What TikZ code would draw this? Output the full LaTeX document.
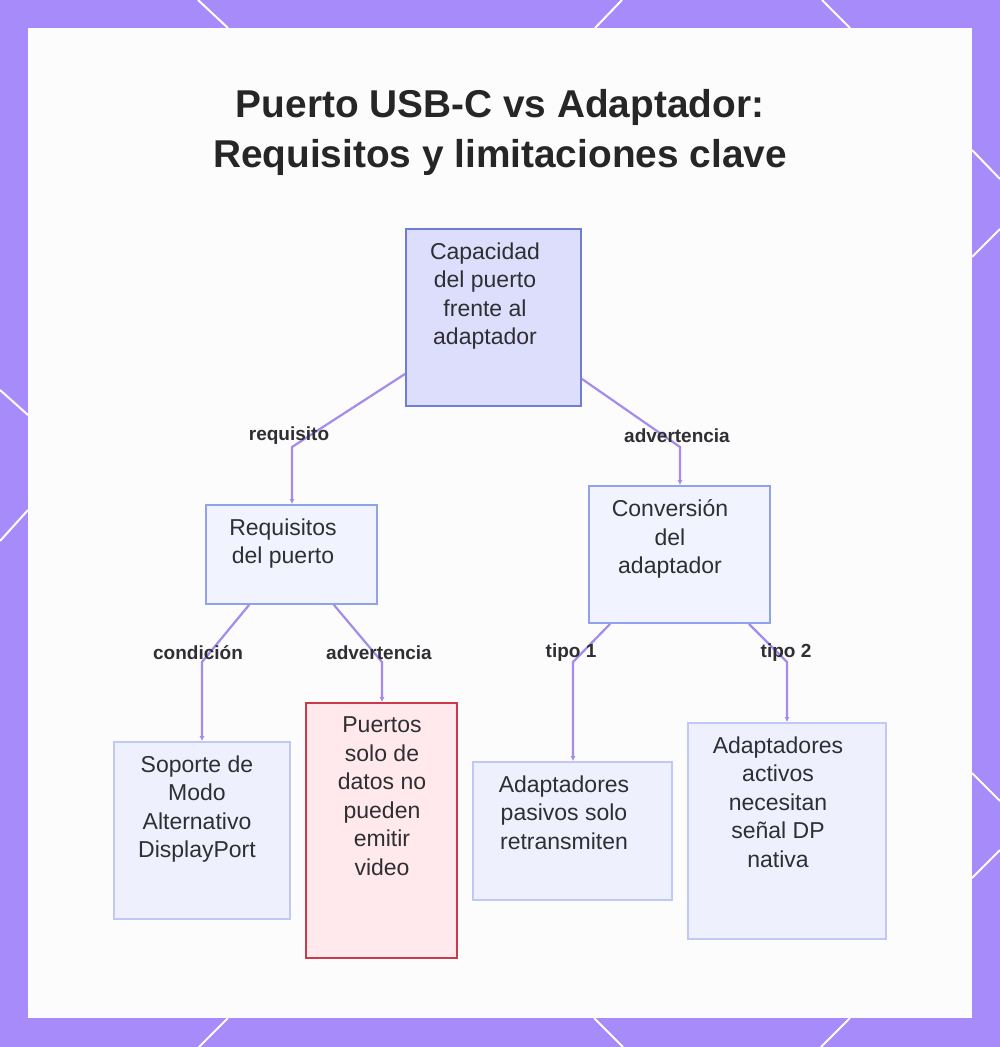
\documentclass[tikz,border=0pt]{standalone}
\usepackage{fontspec}
\setmainfont{Liberation Sans}
\usepackage{xcolor}
\usetikzlibrary{arrows.meta}

\definecolor{frame}{HTML}{A78BFA}
\definecolor{edgec}{HTML}{A48BEC}
\definecolor{txtc}{HTML}{2E2E33}
\definecolor{rootfill}{HTML}{DCDEFC}
\definecolor{rootline}{HTML}{6F7DD6}
\definecolor{midfill}{HTML}{F1F3FE}
\definecolor{midline}{HTML}{8FA2EA}
\definecolor{leaffill}{HTML}{EEF1FD}
\definecolor{leafline}{HTML}{BFC9F4}
\definecolor{warnfill}{HTML}{FFE9EC}
\definecolor{warnline}{HTML}{C93A4B}

\begin{document}
\begin{tikzpicture}[x=1pt, y=-1pt]
    \tikzstyle{rootbox}=[draw=rootline, fill=rootfill, line width=1.8pt, inner sep=0pt]
    \tikzstyle{midbox}=[draw=midline, fill=midfill, line width=1.8pt, inner sep=0pt]
    \tikzstyle{leafbox}=[draw=leafline, fill=leaffill, line width=1.8pt, inner sep=0pt]
    \tikzstyle{warnbox}=[draw=warnline, fill=warnfill, line width=1.8pt, inner sep=0pt]
    \tikzstyle{boxtxt}=[anchor=north, align=center, inner sep=0pt, text=txtc, font=\fontsize{23}{28.5}\selectfont]
    \tikzstyle{lbl}=[inner sep=0pt, text=txtc, font=\bfseries\fontsize{19}{21}\selectfont]
    \tikzstyle{conn}=[draw=edgec, line width=2.2pt, -{Latex[length=5pt,width=5pt]}]
    \tikzstyle{slash}=[draw=white, line width=2pt]

    \useasboundingbox (0,0) rectangle (1000,1047);
    % frame and panel
    \fill[frame] (0,0) rectangle (1000,1047);
    \draw[slash] (198,0) -- (228,28);
    \draw[slash] (622,0) -- (595,28);
    \draw[slash] (822,0) -- (850,28);
    \draw[slash] (228,1018) -- (199,1047);
    \draw[slash] (594,1018) -- (623,1047);
    \draw[slash] (850,1018) -- (821,1047);
    \draw[slash] (0,390) -- (28,415);
    \draw[slash] (28,510) -- (0,541);
    \draw[slash] (972,150) -- (1000,179);
    \draw[slash] (1000,229) -- (972,257);
    \draw[slash] (972,773) -- (1000,801);
    \draw[slash] (1000,850) -- (972,878);
    \fill[white!99!black] (28,28) rectangle (972,1018);

    % title
    \node[anchor=north, align=center, inner sep=0pt, text=black!85, font=\bfseries\fontsize{38.8}{50}\selectfont] (title) at (500,89)
        {Puerto USB-C vs Adaptador:\\Requisitos y limitaciones clave};

    % boxes
    \node[rootbox, minimum width=175pt, minimum height=177pt] (cap) at (493.5,317.5) {};
    \node[boxtxt] (cap-t) at (485,242.5) {Capacidad\\del puerto\\frente al\\adaptador};

    \node[midbox, minimum width=171pt, minimum height=99pt] (req) at (291.5,554.5) {};
    \node[boxtxt] (req-t) at (283,518.5) {Requisitos\\del puerto};

    \node[midbox, minimum width=181pt, minimum height=137pt] (conv) at (679.5,554.5) {};
    \node[boxtxt] (conv-t) at (670,499.5) {Conversión\\del\\adaptador};

    \node[leafbox, minimum width=176pt, minimum height=177pt] (alt) at (202,830.5) {};
    \node[boxtxt] (alt-t) at (197,755.5) {Soporte de\\Modo\\Alternativo\\DisplayPort};

    \node[warnbox, minimum width=151pt, minimum height=255pt] (datos) at (381.5,830.5) {};
    \node[boxtxt] (datos-t) at (382,716.5) {Puertos\\solo de\\datos no\\pueden\\emitir\\video};

    \node[leafbox, minimum width=199pt, minimum height=138pt] (pas) at (572.5,831) {};
    \node[boxtxt] (pas-t) at (564,775.5) {Adaptadores\\pasivos solo\\retransmiten};

    \node[leafbox, minimum width=198pt, minimum height=216pt] (act) at (787,831) {};
    \node[boxtxt] (act-t) at (778,736.5) {Adaptadores\\activos\\necesitan\\señal DP\\nativa};

    % bends
    \coordinate (k1) at (292,447);
    \coordinate (k2) at (680,447);
    \coordinate (k3) at (202,662);
    \coordinate (k4) at (382,662);
    \coordinate (k5) at (573,662);
    \coordinate (k6) at (787,662);

    % connectors
    \draw[conn] ([yshift=33pt]cap.south west) -- (k1) node[lbl, xshift=-3pt, yshift=11pt] (l1) {requisito} -- (req.north -| k1);
    \draw[conn] ([yshift=28pt]cap.south east) -- (k2) node[lbl, xshift=-3pt, yshift=11pt] (l2) {advertencia} -- (conv.north -| k2);
    \draw[conn] ([xshift=44pt]req.south west) -- (k3) node[lbl, xshift=-4pt, yshift=9pt] (l3) {condición} -- (alt.north -| k3);
    \draw[conn] ([xshift=-44pt]req.south east) -- (k4) node[lbl, xshift=-3pt, yshift=9pt] (l4) {advertencia} -- (datos.north -| k4);
    \draw[conn] ([xshift=22pt]conv.south west) -- (k5) node[lbl, xshift=-2pt, yshift=9pt] (l5) {tipo 1} -- (pas.north -| k5);
    \draw[conn] ([xshift=-22pt]conv.south east) -- (k6) node[lbl, xshift=-1pt, yshift=9pt] (l6) {tipo 2} -- (act.north -| k6);
\end{tikzpicture}
\end{document}
